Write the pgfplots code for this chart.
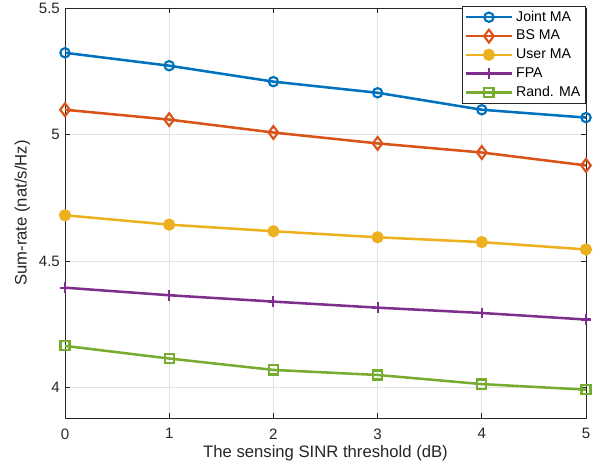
\documentclass[border=0pt]{standalone}
\usepackage{fontspec}
\setmainfont{Liberation Sans}
\usepackage{pgfplots}
\pgfplotsset{compat=1.18}

\definecolor{mblue}{rgb}{0,0.447,0.741}
\definecolor{morange}{rgb}{0.850,0.325,0.098}
\definecolor{myellow}{rgb}{0.929,0.694,0.125}
\definecolor{mpurple}{rgb}{0.494,0.184,0.556}
\definecolor{mgreen}{rgb}{0.466,0.674,0.188}
\definecolor{axgray}{gray}{0.15}

\begin{document}
\fontsize{11}{13}\selectfont
\begin{tikzpicture}
\begin{axis}[
  name=ax,
  scale only axis,
  width=390.75pt, height=307.5pt,
  xmin=0, xmax=5, ymin=3.88, ymax=5.5,
  xtick={0,1,2,3,4,5},
  ytick={4,4.5,5,5.5},
  tick align=inside,
  major tick length=4pt,
  axis line style={axgray, line width=0.5pt},
  tick style={axgray, line width=0.5pt},
  xmajorgrids, ymajorgrids,
  grid style={gray!22, line width=0.5pt},
  /pgf/number format/assume math mode=true,
  ticklabel style={font=\fontsize{11.3}{13}\selectfont, text=axgray},
  xticklabel style={yshift=-4pt},
  label style={font=\fontsize{12.5}{14}\selectfont, text=axgray},
  xlabel={The sensing SINR threshold (dB)},
  ylabel={Sum-rate (nat/s/Hz)},
  xlabel style={yshift=3pt},
  ylabel style={yshift=-1pt},
  legend cell align=left,
  legend style={at={(rel axis cs:1,1)}, anchor=north east, xshift=-0.5pt, yshift=1.5pt,
    draw=axgray, line width=0.5pt, fill=white, inner sep=1.5pt,
    font=\fontsize{10.6}{12.5}\selectfont, text=black, row sep=1pt},
  legend image code/.code={\draw[mark repeat=2,mark phase=2] plot coordinates {(0pt,0pt) (17.5pt,0pt) (35pt,0pt)};},
  every axis plot/.append style={line width=1.9pt},
]
\addplot[mblue, mark=o, mark size=3.5pt, mark options={line width=1.6pt}] coordinates {
  (0,5.323) (1,5.272) (2,5.209) (3,5.165) (4,5.098) (5,5.067)};
\addplot[morange, mark=diamond, mark size=4.8pt, mark options={line width=1.6pt}] coordinates {
  (0,5.098) (1,5.059) (2,5.008) (3,4.965) (4,4.929) (5,4.878)};
\addplot[myellow, mark=*, mark size=3.6pt] coordinates {
  (0,4.681) (1,4.644) (2,4.618) (3,4.594) (4,4.575) (5,4.546)};
\addplot[mpurple, mark=+, mark size=4pt, mark options={line width=1.6pt}] coordinates {
  (0,4.395) (1,4.365) (2,4.340) (3,4.316) (4,4.295) (5,4.269)};
\addplot[mgreen, mark=square, mark size=3.4pt, mark options={line width=1.6pt}] coordinates {
  (0,4.165) (1,4.115) (2,4.070) (3,4.050) (4,4.014) (5,3.992)};
\legend{Joint MA, BS MA, User MA, FPA, Rand. MA}
\end{axis}
\pgfresetboundingbox
\path ([shift={(-48.75pt,-40.5pt)}]ax.south west) rectangle ([shift={(9.75pt,6pt)}]ax.north east);
\end{tikzpicture}
\end{document}
